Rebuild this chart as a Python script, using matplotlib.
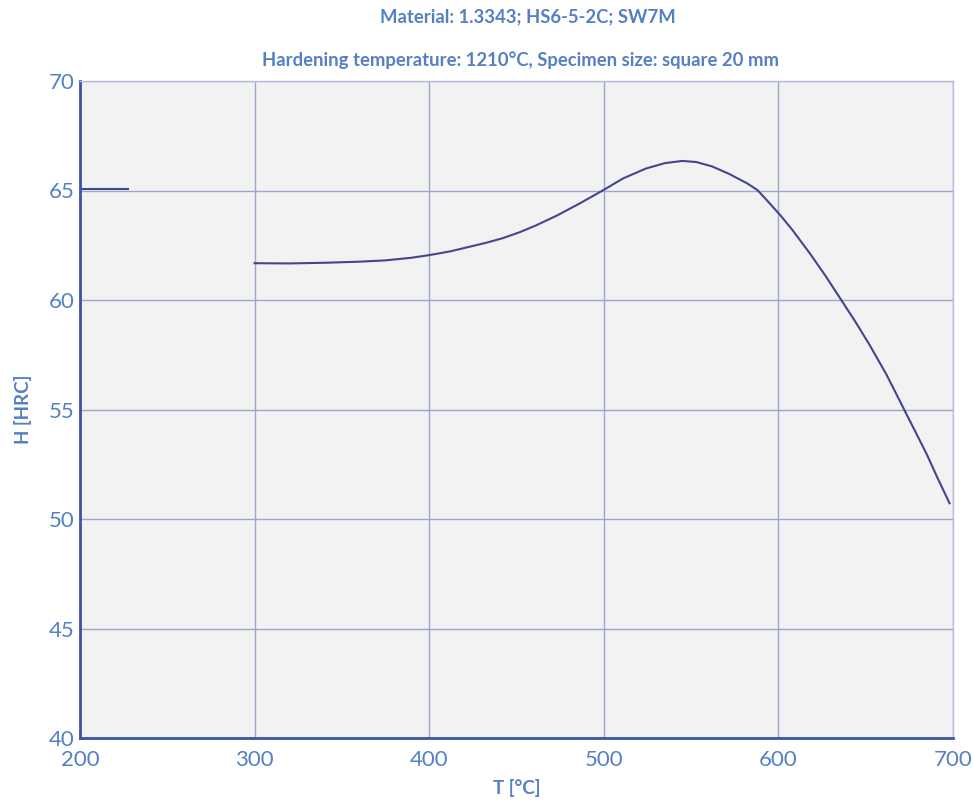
import matplotlib
matplotlib.use("Agg")
import matplotlib.pyplot as plt

plt.rcParams['font.family'] = ['Lato', 'DejaVu Sans']

# Data
seg1_T = [200, 228]
seg1_H = [65.05, 65.05]

seg2_T = [300, 320, 340, 360, 375, 390, 400, 412, 423, 433, 442, 452, 461, 473, 486,
          500, 511, 524, 535, 545, 553, 562, 572, 582, 588, 594, 601, 608, 618, 627,
          636, 644, 652, 662, 672, 679, 685, 691, 698]
seg2_H = [61.68, 61.67, 61.7, 61.75, 61.81, 61.93, 62.05, 62.22, 62.43, 62.62, 62.82,
          63.1, 63.4, 63.85, 64.4, 65.03, 65.55, 66.0, 66.25, 66.35, 66.3, 66.1, 65.75,
          65.33, 65.02, 64.5, 63.88, 63.2, 62.13, 61.1, 60.0, 59.02, 57.98, 56.58, 55.0,
          53.9, 52.95, 51.9, 50.72]

x_ticks = [200, 300, 400, 500, 600, 700]
y_ticks = [40, 45, 50, 55, 60, 65, 70]

title1 = "Material: 1.3343; HS6-5-2C; SW7M"
title2 = "Hardening temperature: 1210°C, Specimen size: square 20 mm"

label_col = '#5580C4'
line_col = '#46448E'
grid_col = '#9AA6CC'

fig = plt.figure(figsize=(9.73, 8.02), dpi=100)
ax = fig.add_axes([80/973, 1-738/802, (953-80)/973, (738-81)/802])
ax.set_facecolor('#F2F2F2')

ax.plot(seg1_T, seg1_H, color=line_col, lw=1.5, solid_capstyle='butt')
ax.plot(seg2_T, seg2_H, color=line_col, lw=1.5, solid_joinstyle='round')

ax.set_xlim(200, 700)
ax.set_ylim(40, 70)
ax.set_xticks(x_ticks)
ax.set_yticks(y_ticks)
ax.grid(True, color=grid_col, lw=1.0)
ax.set_axisbelow(True)
ax.tick_params(axis='both', length=0, labelsize=16, colors=label_col)
ax.tick_params(axis='x', pad=9)
ax.tick_params(axis='y', pad=4)

for s in ['top', 'right']:
    ax.spines[s].set_color('#B5BED8')
    ax.spines[s].set_linewidth(1.0)
for s in ['left', 'bottom']:
    ax.spines[s].set_color('#3B55A3')
    ax.spines[s].set_linewidth(2.0)

ax.set_xlabel('T [°C]', fontsize=13.5, fontweight='bold', color=label_col, labelpad=6)
ax.set_ylabel('H [HRC]', fontsize=13.5, fontweight='bold', color=label_col, labelpad=12)

fig.text(528/973, 1-17/802, title1, ha='center', va='center', fontsize=13.3, fontweight='bold', color=label_col)
fig.text(521/973, 1-60/802, title2, ha='center', va='center', fontsize=13.3, fontweight='bold', color=label_col)

fig.savefig('out.png', dpi=100, facecolor='white')
